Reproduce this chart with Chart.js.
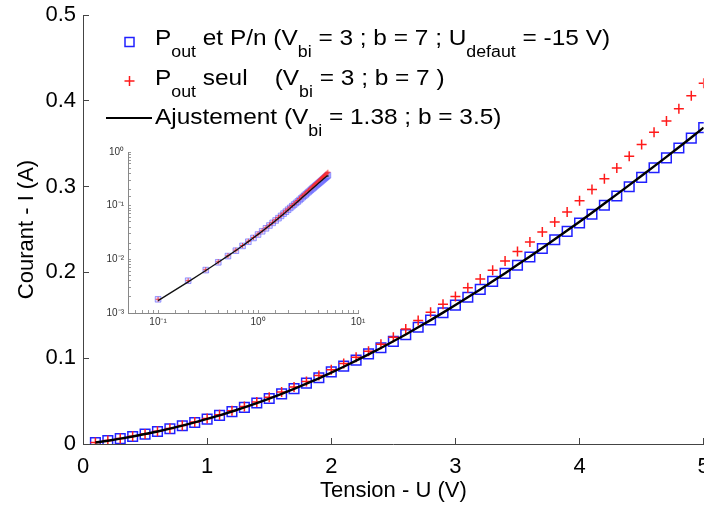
<!DOCTYPE html>
<html>
<head>
<meta charset="utf-8">
<script src="https://cdn.jsdelivr.net/npm/chart.js@4.4.0/dist/chart.umd.min.js"></script>
<style>
  html, body { margin: 0; padding: 0; background: #fff; overflow: hidden; }
  #wrap { position: relative; width: 704px; height: 506px; overflow: hidden; }
  #main { position: absolute; left: 0; top: 0; }
  #inset { position: absolute; left: 95px; top: 140px; }
</style>
</head>
<body>
<div id="wrap">
  <canvas id="main" width="712" height="506"></canvas>
  <canvas id="inset" width="275" height="200"></canvas>
</div>
<script>
// tension (V)
const U = [0.1, 0.2, 0.3, 0.4, 0.5, 0.6, 0.7, 0.8, 0.9, 1.0,
  1.1, 1.2, 1.3, 1.4, 1.5, 1.6, 1.7, 1.8, 1.9, 2.0,
  2.1, 2.2, 2.3, 2.4, 2.5, 2.6, 2.7, 2.8, 2.9, 3.0,
  3.1, 3.2, 3.3, 3.4, 3.5, 3.6, 3.7, 3.8, 3.9, 4.0,
  4.1, 4.2, 4.3, 4.4, 4.5, 4.6, 4.7, 4.8, 4.9, 5.0];

// Pout et P/n (Vbi = 3 ; b = 7 ; Udefaut = -15 V)
const I_PN = [0.0018, 0.0040, 0.0063, 0.0088, 0.0115, 0.0145, 0.0178, 0.0213, 0.0250, 0.0290,
  0.0333, 0.0378, 0.0427, 0.0478, 0.0530, 0.0584, 0.0645, 0.0710, 0.0772, 0.0840,
  0.0908, 0.0978, 0.1050, 0.1122, 0.1196, 0.1275, 0.1360, 0.1445, 0.1530, 0.1618,
  0.1710, 0.1802, 0.1895, 0.1988, 0.2084, 0.2180, 0.2278, 0.2380, 0.2478, 0.2575,
  0.2678, 0.2782, 0.2890, 0.2998, 0.3108, 0.3220, 0.3335, 0.3450, 0.3565, 0.3687];

// Pout seul (Vbi = 3 ; b = 7)
const I_OUT = [0.0018, 0.0040, 0.0064, 0.0090, 0.0117, 0.0148, 0.0181, 0.0217, 0.0255, 0.0296,
  0.0340, 0.0387, 0.0437, 0.0490, 0.0545, 0.0605, 0.0665, 0.0728, 0.0798, 0.0865,
  0.0938, 0.1010, 0.1082, 0.1162, 0.1245, 0.1340, 0.1440, 0.1535, 0.1628, 0.1718,
  0.1820, 0.1922, 0.2026, 0.2132, 0.2245, 0.2355, 0.2470, 0.2588, 0.2705, 0.2835,
  0.2965, 0.3092, 0.3218, 0.3355, 0.3492, 0.3634, 0.3765, 0.3908, 0.4060, 0.4205];

// Ajustement (Vbi = 1.38 ; b = 3.5)
const I_FIT = [0.0017, 0.0038, 0.0062, 0.0088, 0.0116, 0.0146, 0.0179, 0.0214, 0.0252, 0.0292,
  0.0334, 0.0379, 0.0427, 0.0477, 0.0530, 0.0585, 0.0643, 0.0703, 0.0766, 0.0832,
  0.0900, 0.0971, 0.1044, 0.1119, 0.1197, 0.1277, 0.1360, 0.1444, 0.1531, 0.1620,
  0.1710, 0.1802, 0.1896, 0.1991, 0.2088, 0.2186, 0.2285, 0.2386, 0.2488, 0.2591,
  0.2696, 0.2802, 0.2909, 0.3017, 0.3126, 0.3236, 0.3347, 0.3459, 0.3573, 0.3688];

const X_TICKS = [0, 1, 2, 3, 4, 5];
const Y_TICKS = [0, 0.1, 0.2, 0.3, 0.4, 0.5];

const LEGEND = [
  { marker: 'square', parts: [['P'], ['out', 1], [' et P/n (V'], ['bi', 1], [' = 3 ; b = 7 ; U'], ['defaut', 1], [' = -15 V)']] },
  { marker: 'plus', parts: [['P'], ['out', 1], [' seul    (V'], ['bi', 1], [' = 3 ; b = 7 )']] },
  { marker: 'line', parts: [['Ajustement (V'], ['bi', 1], [' = 1.38 ; b = 3.5)']] },
];

const FONT = "'Liberation Sans', Arial, sans-serif";
const BLUE = '#2020ff';
const RED = '#ff1a1a';
Chart.defaults.font.family = FONT;
Chart.defaults.color = '#000';

const pts = (ys) => U.map((u, i) => ({ x: u, y: ys[i] }));

// drop the extra room chart.js keeps for overflowing tick labels
const noPad = (s) => { s.paddingTop = 0; s.paddingBottom = 0; s.paddingLeft = 0; s.paddingRight = 0; };

const richLegend = {
  id: 'richLegend',
  afterDraw(chart) {
    const ctx = chart.ctx;
    const markY = [42, 81, 118];
    const baseY = [45, 85, 124];
    ctx.save();
    ctx.textBaseline = 'alphabetic';
    LEGEND.forEach((row, i) => {
      const cy = markY[i];
      if (row.marker === 'square') {
        ctx.strokeStyle = BLUE; ctx.lineWidth = 1.5;
        ctx.strokeRect(125, cy - 4.5, 9, 9);
      } else if (row.marker === 'plus') {
        ctx.strokeStyle = RED; ctx.lineWidth = 1.5;
        ctx.beginPath();
        ctx.moveTo(124.5, cy); ctx.lineTo(134.5, cy);
        ctx.moveTo(129.5, cy - 5); ctx.lineTo(129.5, cy + 5);
        ctx.stroke();
      } else {
        ctx.strokeStyle = '#000'; ctx.lineWidth = 2;
        ctx.beginPath(); ctx.moveTo(106, cy); ctx.lineTo(152, cy); ctx.stroke();
      }
      ctx.fillStyle = '#000';
      ctx.translate(155, 0);
      ctx.scale(1.11, 1);
      let x = 0;
      row.parts.forEach(([t, sub]) => {
        ctx.font = sub ? `16px ${FONT}` : `22px ${FONT}`;
        ctx.fillText(t, x, baseY[i] + (sub ? 12 : 0));
        x += ctx.measureText(t).width;
      });
      ctx.setTransform(1, 0, 0, 1, 0, 0);
    });
    ctx.restore();
  },
};

new Chart(document.getElementById('main'), {
  type: 'scatter',
  data: {
    datasets: [
      {
        label: 'Pout et P/n',
        data: pts(I_PN),
        pointStyle: 'rect',
        pointRadius: 6.8,
        pointBorderColor: BLUE,
        pointBackgroundColor: 'rgba(0,0,0,0)',
        pointBorderWidth: 1.5,
        order: 3,
      },
      {
        label: 'Pout seul',
        data: pts(I_OUT),
        pointStyle: 'cross',
        pointRadius: 5,
        pointBorderColor: RED,
        pointBorderWidth: 1.5,
        order: 2,
      },
      {
        label: 'Ajustement',
        data: pts(I_FIT),
        showLine: true,
        borderColor: '#000',
        borderWidth: 2.4,
        pointRadius: 0,
        order: 1,
      },
    ],
  },
  options: {
    responsive: false,
    animation: false,
    layout: { padding: { top: 15, right: 1, left: 0, bottom: 0 } },
    plugins: { legend: { display: false }, tooltip: { enabled: false } },
    scales: {
      x: {
        type: 'linear',
        min: 0, max: 5,
        afterBuildTicks: (s) => { s.ticks = X_TICKS.map((v) => ({ value: v })); },
        afterFit: (s) => { s.height = 62; noPad(s); },
        border: { color: '#444', width: 1 },
        grid: { drawOnChartArea: false, tickLength: -6, color: '#444' },
        ticks: { font: { size: 22 }, color: '#000', padding: 16, maxRotation: 0 },
        title: { display: true, text: 'Tension - U (V)', font: { size: 22 }, color: '#000', padding: { top: 0, bottom: 2 } },
      },
      y: {
        type: 'linear',
        min: 0, max: 0.5,
        afterBuildTicks: (s) => { s.ticks = Y_TICKS.map((v) => ({ value: v })); },
        afterFit: (s) => { s.width = 83; noPad(s); },
        border: { color: '#444', width: 1 },
        grid: { drawOnChartArea: false, tickLength: -6, color: '#444' },
        ticks: { font: { size: 22 }, color: '#000', padding: 13 },
        title: { display: true, text: 'Courant - I (A)', font: { size: 22 }, color: '#000', padding: { top: 14, bottom: 0 } },
      },
    },
  },
  plugins: [richLegend],
});

const SUP = { '-': '⁻', '0': '⁰', '1': '¹', '2': '²', '3': '³' };
const powLabel = (v) => {
  const e = Math.log10(v);
  if (Math.abs(e - Math.round(e)) > 1e-6) return '';
  return '10' + String(Math.round(e)).split('').map((c) => SUP[c]).join('');
};

new Chart(document.getElementById('inset'), {
  type: 'scatter',
  data: {
    datasets: [
      {
        data: pts(I_PN),
        pointStyle: 'rect',
        pointRadius: 4,
        pointBorderColor: 'rgba(70,70,255,0.5)',
        pointBackgroundColor: 'rgba(170,170,255,0.45)',
        pointBorderWidth: 1,
        order: 3,
      },
      {
        data: pts(I_OUT),
        pointStyle: 'cross',
        pointRadius: 2.5,
        pointBorderColor: 'rgba(255,40,40,0.8)',
        pointBorderWidth: 1,
        order: 2,
      },
      {
        data: pts(I_FIT),
        showLine: true,
        borderColor: '#111',
        borderWidth: 1.3,
        pointRadius: 0,
        order: 1,
      },
    ],
  },
  options: {
    responsive: false,
    animation: false,
    layout: { padding: { top: 12, right: 12, left: 0, bottom: 0 } },
    plugins: { legend: { display: false }, tooltip: { enabled: false } },
    scales: {
      x: {
        type: 'logarithmic',
        min: 0.05, max: 10,
        afterFit: (s) => { s.height = 27; noPad(s); },
        border: { color: '#888', width: 1 },
        grid: { drawOnChartArea: false, tickLength: -3, color: '#999' },
        ticks: { font: { size: 10 }, color: '#333', padding: 6, autoSkip: false, maxRotation: 0, callback: powLabel },
      },
      y: {
        type: 'logarithmic',
        min: 0.001, max: 1,
        afterFit: (s) => { s.width = 33; noPad(s); },
        border: { color: '#888', width: 1 },
        grid: { drawOnChartArea: false, tickLength: -3, color: '#999' },
        ticks: { font: { size: 10 }, color: '#333', padding: 7, autoSkip: false, callback: powLabel },
      },
    },
  },
});
</script>
</body>
</html>
